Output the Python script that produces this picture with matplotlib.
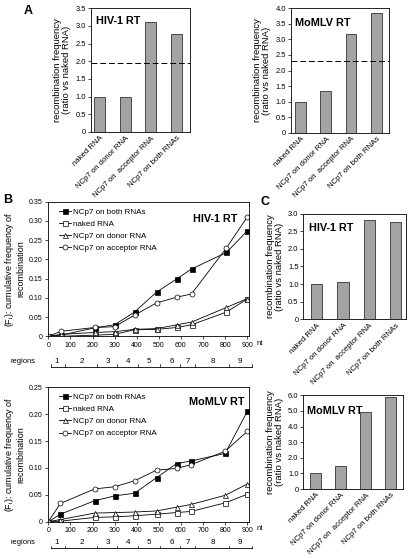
import matplotlib
matplotlib.use("Agg")
import matplotlib.pyplot as plt
from matplotlib.transforms import blended_transform_factory
import numpy as np

plt.rcParams['font.family'] = ['Liberation Sans', 'DejaVu Sans']

# ---------------- data ----------------
categories = ["naked RNA", "NCp7 on donor RNA", "NCp7 on  acceptor RNA", "NCp7 on both RNAs"]

a_hiv = [1.0, 0.98, 3.12, 2.77]
a_hiv_cut = 1.95
a_mlv = [1.0, 1.33, 3.18, 3.85]
a_mlv_cut = 2.3

c_hiv = [1.0, 1.05, 2.82, 2.77]
c_mlv = [1.0, 1.5, 4.95, 5.9]

nt_hiv = [0, 57, 211, 300, 390, 490, 583, 648, 806, 900]
hiv_both = [0, 0.003, 0.022, 0.030, 0.063, 0.115, 0.150, 0.175, 0.218, 0.274]
hiv_naked = [0, 0.0, 0.003, 0.005, 0.017, 0.018, 0.023, 0.030, 0.063, 0.097]
hiv_donor = [0, 0.005, 0.010, 0.012, 0.018, 0.020, 0.030, 0.037, 0.075, 0.098]
hiv_acceptor = [0, 0.013, 0.023, 0.025, 0.055, 0.087, 0.102, 0.110, 0.230, 0.310]

nt_mlv = [0, 55, 210, 300, 390, 490, 580, 645, 800, 900]
mlv_both = [0, 0.014, 0.039, 0.048, 0.053, 0.082, 0.108, 0.113, 0.127, 0.205]
mlv_naked = [0, 0.001, 0.008, 0.009, 0.011, 0.014, 0.017, 0.019, 0.035, 0.051]
mlv_donor = [0, 0.004, 0.016, 0.017, 0.018, 0.020, 0.027, 0.032, 0.049, 0.070]
mlv_acceptor = [0, 0.034, 0.061, 0.065, 0.076, 0.096, 0.099, 0.106, 0.131, 0.168]

series_names = ["NCp7 on both RNAs", "naked RNA", "NCp7 on donor RNA", "NCp7 on acceptor RNA"]

region_labels = ["1", "2", "3", "4", "5", "6", "7", "8", "9"]
region_label_nt = [40, 152, 268, 362, 457, 557, 629, 743, 865]
region_bounds_nt = [10, 75, 222, 312, 407, 505, 597, 662, 818, 922]

# ---------------- figure ----------------
fig = plt.figure(figsize=(4.11, 5.58), dpi=100)

BAR_COLOR = "#a3a3a3"
TICK_FS = 5.4
CAT_FS = 5.6
YLAB_FS = 6.8
TITLE_FS = 7.8


def bar_panel(rect, vals, ylim, yticks, title, title_xy, xlim, cut=None):
    ax = fig.add_axes(rect)
    x = np.arange(len(vals))
    ax.bar(x, vals, width=0.43, color=BAR_COLOR, edgecolor="#333333", linewidth=0.6)
    if cut is not None:
        ax.axhline(cut, color="black", lw=0.7, ls=(0, (6, 3)))
    ax.set_xlim(*xlim)
    ax.set_ylim(*ylim)
    ax.set_yticks(yticks)
    ax.set_yticklabels(["0" if t == 0 else f"{t:.1f}" for t in yticks], fontsize=TICK_FS)
    ax.set_xticks(x)
    ax.set_xticklabels(categories, rotation=45, ha="right", rotation_mode="anchor",
                       fontsize=CAT_FS)
    ax.tick_params(axis="x", length=0, pad=2)
    ax.tick_params(axis="y", length=2, width=0.5, pad=1.5)
    for s in ax.spines.values():
        s.set_linewidth(0.6)
    ax.set_ylabel("recombination frequency\n(ratio vs naked RNA)", fontsize=YLAB_FS,
                  labelpad=3, linespacing=1.0)
    ax.text(title_xy[0], title_xy[1], title, transform=ax.transAxes, fontsize=TITLE_FS,
            fontweight="bold", ha="left", va="center")
    return ax


W, H = 411.0, 558.0


def rect_px(x0, x1, y0, y1):
    return [x0 / W, 1 - y1 / H, (x1 - x0) / W, (y1 - y0) / H]


# Panel A
bar_panel(rect_px(90.7, 190, 8.3, 132), a_hiv, (0, 3.5), np.arange(0, 3.51, 0.5),
          "HIV-1 RT", (0.05, 0.9), (-0.34, 3.52), cut=a_hiv_cut)
bar_panel(rect_px(290.7, 389, 8.3, 132.7), a_mlv, (0, 4.0), np.arange(0, 4.01, 0.5),
          "MoMLV RT", (0.04, 0.88), (-0.4, 3.51), cut=a_mlv_cut)

# Panel C
bar_panel(rect_px(303.3, 406, 213.7, 319.3), c_hiv, (0, 3.0), np.arange(0, 3.01, 0.5),
          "HIV-1 RT", (0.06, 0.86), (-0.5, 3.39))
bar_panel(rect_px(303.3, 403, 395.3, 489), c_mlv, (0, 6.0), np.arange(0, 6.01, 1.0),
          "MoMLV RT", (0.04, 0.83), (-0.48, 3.5))

markers = [dict(marker="s", mfc="black", mec="black"),
           dict(marker="s", mfc="white", mec="black"),
           dict(marker="^", mfc="white", mec="black"),
           dict(marker="o", mfc="white", mec="black")]


def line_panel(rect, nt, series, ylim, yticks, title, title_xy, br_y, lab_y):
    ax = fig.add_axes(rect)
    for name, vals, m in zip(series_names, series, markers):
        ax.plot(nt, vals, color="black", lw=0.6, ms=3.6, mew=0.5, label=name, **m)
    ax.set_xlim(0, 908)
    ax.set_ylim(*ylim)
    ax.set_yticks(yticks)
    ax.set_yticklabels(["0" if t == 0 else f"{t:.2f}" for t in yticks], fontsize=5.0)
    ax.set_xticks(np.arange(0, 901, 100))
    ax.set_xticklabels([str(v) for v in range(0, 901, 100)], fontsize=5.0)
    ax.tick_params(length=2, width=0.5, pad=2)
    for s in ax.spines.values():
        s.set_linewidth(0.6)
    ax.set_ylabel("(F$_\\mathregular{i}$): cumulative frequency of\nrecombination",
                  fontsize=6.5, labelpad=2.5, linespacing=1.1)
    ax.legend(loc="upper left", bbox_to_anchor=(0.03, 0.99), frameon=False,
              fontsize=5.8, handlelength=1.5, handletextpad=0.2,
              labelspacing=0.55, borderaxespad=0.2)
    ax.text(title_xy[0], title_xy[1], title, transform=ax.transAxes, fontsize=TITLE_FS,
            fontweight="bold", ha="left", va="center")
    ax.text(1.035, -0.05, "nt", transform=ax.transAxes, fontsize=5.6, ha="left", va="center")
    tr = blended_transform_factory(ax.transData, ax.transAxes)
    ax.plot([region_bounds_nt[0], region_bounds_nt[-1]], [br_y, br_y], color="black",
            lw=0.6, transform=tr, clip_on=False)
    for b in region_bounds_nt:
        ax.plot([b, b], [br_y, br_y + 0.018], color="black", lw=0.5, transform=tr,
                clip_on=False)
    for lab, pos in zip(region_labels, region_label_nt):
        ax.text(pos, lab_y, lab, transform=tr, fontsize=5.8, ha="center", va="center")
    ax.text(-0.19, lab_y, "regions", transform=ax.transAxes, fontsize=5.4,
            ha="left", va="center")
    return ax


line_panel(rect_px(48.3, 249, 201.7, 336.3), nt_hiv,
           [hiv_both, hiv_naked, hiv_donor, hiv_acceptor],
           (0, 0.35), np.arange(0, 0.351, 0.05), "HIV-1 RT", (0.72, 0.87),
           -0.226, -0.189)
line_panel(rect_px(48.3, 249, 387.3, 521.7), nt_mlv,
           [mlv_both, mlv_naked, mlv_donor, mlv_acceptor],
           (0, 0.25), np.arange(0, 0.251, 0.05), "MoMLV RT", (0.70, 0.89),
           -0.198, -0.153)

# panel letters
for lab, x, y in [("A", 28, 11), ("B", 8, 200), ("C", 265, 202)]:
    fig.text(x / W, 1 - y / H, lab, fontsize=9, fontweight="bold", ha="center", va="center")

fig.savefig("out.png", dpi=100)
